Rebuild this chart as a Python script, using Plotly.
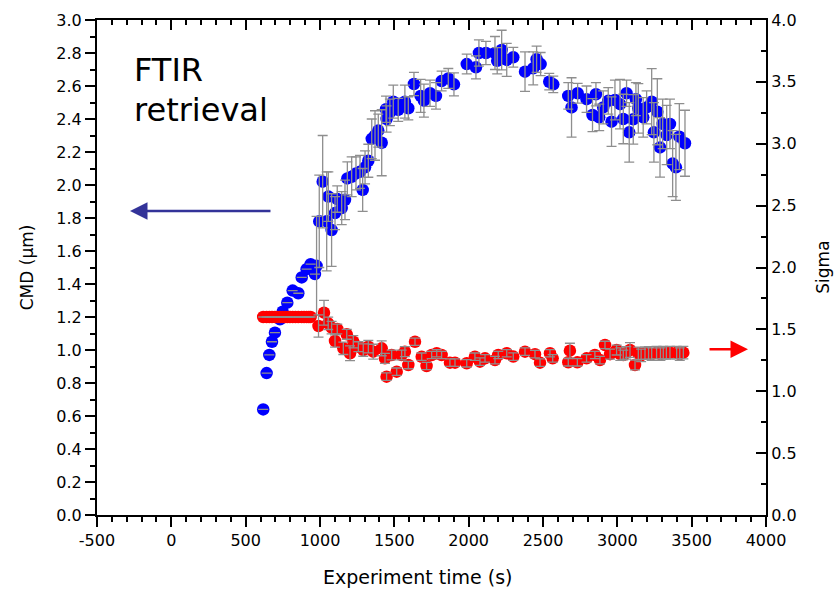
import plotly.graph_objects as go

# ---- data ----
blue_t = [618, 641, 659, 677, 697, 731, 749, 780, 816, 854, 877, 910, 937, 966, 977,
          995, 1018, 1045, 1056, 1078, 1101, 1116, 1146, 1168, 1184, 1213, 1242, 1269, 1287,
          1303, 1325, 1348, 1370, 1392, 1415, 1444, 1448, 1470, 1493, 1526, 1571, 1594, 1632,
          1677, 1699, 1740, 1780, 1818, 1863, 1901, 1987, 2049, 2069, 2116, 2177, 2192, 2222,
          2256, 2300, 2379, 2434, 2457, 2484, 2542, 2569, 2670, 2692, 2733, 2793, 2833, 2856,
          2878, 2905, 2939, 2961, 2984, 3018, 3040, 3062, 3080, 3107, 3125, 3141, 3174, 3197,
          3231, 3246, 3269, 3287, 3305, 3332, 3354, 3372, 3394, 3417, 3455]
blue_cmd = [0.64, 0.86, 0.97, 1.05, 1.105, 1.186, 1.232, 1.287, 1.36, 1.344, 1.44, 1.49, 1.52, 1.46, 1.51,
            1.78, 2.02, 1.78, 1.93, 1.727, 1.83, 1.915, 1.86, 1.91, 2.04, 2.05, 2.07, 2.08, 1.97,
            2.107, 2.147, 2.28, 2.30, 2.33, 2.256, 2.459, 2.40, 2.44, 2.505, 2.455, 2.505, 2.465, 2.612,
            2.54, 2.511, 2.556, 2.54, 2.63, 2.646, 2.61, 2.733, 2.713, 2.80, 2.80, 2.80, 2.753, 2.818,
            2.758, 2.774, 2.687, 2.707, 2.762, 2.733, 2.626, 2.61, 2.54, 2.47, 2.556, 2.52, 2.424, 2.55,
            2.41, 2.47, 2.51, 2.384, 2.515, 2.49, 2.40, 2.556, 2.319, 2.398, 2.52, 2.465, 2.41, 2.47,
            2.505, 2.319, 2.444, 2.228, 2.37, 2.303, 2.37, 2.13, 2.107, 2.293, 2.253]
blue_err = [0, 0, 0, 0, 0, 0, 0, 0, 0, 0, 0, 0, 0, 0, 0.3,
            0.28, 0.28, 0.3, 0.15, 0.22, 0.1, 0.08, 0.1, 0.12, 0.1, 0.12, 0.1, 0.1, 0.13,
            0.1, 0.1, 0.12, 0.15, 0.1, 0.2, 0.08, 0.08, 0.08, 0.1, 0.07, 0.1, 0.07, 0.07,
            0.1, 0.1, 0.08, 0.08, 0.06, 0.06, 0.07, 0.06, 0.07, 0.08, 0.07, 0.1, 0.08, 0.12,
            0.1, 0.06, 0.12, 0.1, 0.08, 0.07, 0.05, 0.05, 0.08, 0.18, 0.06, 0.08, 0.1, 0.07,
            0.08, 0.1, 0.08, 0.15, 0.12, 0.15, 0.15, 0.08, 0.18, 0.15, 0.1, 0.15, 0.12, 0.1,
            0.2, 0.18, 0.2, 0.18, 0.15, 0.18, 0.15, 0.2, 0.2, 0.2, 0.2]

red_t = [618, 641, 659, 677, 697, 714, 731, 749, 765, 780, 798, 816, 835, 854, 877, 893, 910, 925, 937,
         990, 1027, 1055, 1078, 1101, 1116, 1157, 1180, 1202, 1224, 1258, 1291, 1325, 1358, 1415,
         1437, 1448, 1482, 1516, 1549, 1571, 1594, 1639, 1684, 1717, 1751, 1785, 1818, 1874, 1908,
         1987, 2042, 2076, 2110, 2177, 2199, 2256, 2300, 2379, 2446, 2480, 2547, 2565, 2670, 2681,
         2731, 2793, 2849, 2883, 2917, 2951, 2995, 3020, 3040, 3060, 3085, 3119, 3141, 3160, 3186,
         3210, 3231, 3264, 3290, 3309, 3330, 3354, 3399, 3420, 3444]
red_sigma = [1.6] * 19 + [
         1.527, 1.635, 1.549, 1.514, 1.406, 1.503, 1.347, 1.46, 1.307, 1.40, 1.36, 1.333, 1.36, 1.32, 1.347,
         1.266, 1.118, 1.293, 1.158, 1.293, 1.32, 1.212, 1.40, 1.279, 1.204, 1.293, 1.307, 1.293, 1.231, 1.231,
         1.226, 1.279, 1.239, 1.266, 1.252, 1.293, 1.307, 1.28, 1.32, 1.30, 1.231, 1.307, 1.266, 1.234, 1.328,
         1.234, 1.266, 1.293, 1.252, 1.374, 1.30, 1.333, 1.30, 1.293, 1.31, 1.333, 1.212, 1.307, 1.29, 1.307,
         1.31, 1.30, 1.312, 1.30, 1.312, 1.31, 1.312, 1.312, 1.30, 1.312]
red_err = [0] * 19 + [
         0.09, 0.1, 0.05, 0.05, 0.05, 0.04, 0.05, 0.04, 0.06, 0.05, 0.04, 0.05, 0.05, 0.06, 0.06,
         0.04, 0.03, 0.04, 0.03, 0.04, 0.04, 0.03, 0.03, 0.03, 0.03, 0.03, 0.03, 0.03, 0.03, 0.03,
         0.03, 0.03, 0.03, 0.03, 0.03, 0.03, 0.03, 0.03, 0.03, 0.03, 0.03, 0.03, 0.03, 0.03, 0.06,
         0.03, 0.03, 0.03, 0.03, 0.03, 0.04, 0.04, 0.05, 0.04, 0.05, 0.06, 0.04, 0.05, 0.05, 0.05,
         0.05, 0.05, 0.05, 0.05, 0.05, 0.05, 0.05, 0.05, 0.05, 0.05]

x_ticks = [-500, 0, 500, 1000, 1500, 2000, 2500, 3000, 3500, 4000]
x_ticklabels = ["-500", "0", "500", "1000", "1500", "2000", "2500", "3000", "3500", "4000"]
x_range = [-500, 4000]
y1_range = [0, 3.0]
y2_range = [0, 4.0]

FONT = "DejaVu Sans, sans-serif"
ERR_COLOR = "#8e8e8e"

fig = go.Figure()

# blue markers, then error bars on top
fig.add_trace(go.Scatter(x=blue_t, y=blue_cmd, mode="markers",
                         marker=dict(color="#0000ff", size=12.5), showlegend=False, hoverinfo="skip"))
fig.add_trace(go.Scatter(x=blue_t, y=blue_cmd, mode="markers",
                         marker=dict(color="rgba(0,0,0,0)", size=1),
                         error_y=dict(type="data", array=blue_err, color=ERR_COLOR, thickness=1.3, width=5),
                         showlegend=False, hoverinfo="skip"))
# red markers (right axis), then error bars
fig.add_trace(go.Scatter(x=red_t, y=red_sigma, mode="markers", yaxis="y2",
                         marker=dict(color="#ff0000", size=12.5), showlegend=False, hoverinfo="skip"))
fig.add_trace(go.Scatter(x=red_t, y=red_sigma, mode="markers", yaxis="y2",
                         marker=dict(color="rgba(0,0,0,0)", size=1),
                         error_y=dict(type="data", array=red_err, color=ERR_COLOR, thickness=1.3, width=5),
                         showlegend=False, hoverinfo="skip"))
# invisible trace to anchor the top axis
fig.add_trace(go.Scatter(x=x_range, y=[0, 0], xaxis="x2", mode="markers",
                         marker=dict(opacity=0), showlegend=False, hoverinfo="skip"))

tickfont = dict(family=FONT, size=16, color="black")

fig.update_layout(
    width=839, height=590,
    margin=dict(l=97, r=73, t=20, b=75),
    paper_bgcolor="white", plot_bgcolor="white",
    font=dict(family=FONT, color="black"),
    xaxis=dict(range=x_range, tickmode="array", tickvals=x_ticks, ticktext=x_ticklabels,
               showgrid=False, zeroline=False,
               showline=True, linecolor="black", linewidth=2,
               ticks="outside", ticklen=10, tickwidth=2, tickcolor="black",
               minor=dict(dtick=100, tick0=0, ticks="outside", ticklen=5, tickwidth=1.5, tickcolor="black"),
               tickfont=tickfont),
    xaxis2=dict(range=x_range, overlaying="x", side="top", dtick=500, tick0=0,
                showgrid=False, zeroline=False, showticklabels=False,
                showline=True, linecolor="black", linewidth=2,
                ticks="inside", ticklen=10, tickwidth=2, tickcolor="black",
                minor=dict(dtick=100, ticks="inside", ticklen=5, tickwidth=1.5, tickcolor="black")),
    yaxis=dict(range=y1_range, dtick=0.2, tick0=0, tickformat=".1f", showgrid=False, zeroline=False,
               showline=True, linecolor="black", linewidth=2,
               ticks="outside", ticklen=10, tickwidth=2, tickcolor="black",
               minor=dict(dtick=0.1, ticks="outside", ticklen=5, tickwidth=1.5, tickcolor="black"),
               tickfont=tickfont),
    yaxis2=dict(range=y2_range, overlaying="y", side="right", dtick=0.5, tick0=0, tickformat=".1f",
                showgrid=False, zeroline=False,
                showline=True, linecolor="black", linewidth=2,
                ticks="inside", ticklen=10, tickwidth=2, tickcolor="black",
                minor=dict(dtick=0.25, ticks="inside", ticklen=5, tickwidth=1.5, tickcolor="black"),
                tickfont=tickfont),
)

ann = []
ann.append(dict(text="CMD (µm)", xref="paper", yref="paper", x=-0.105, y=0.5, textangle=-90,
                showarrow=False, font=dict(size=17, family=FONT), xanchor="center", yanchor="middle"))
ann.append(dict(text="Sigma", xref="paper", yref="paper", x=1.084, y=0.5, textangle=-90,
                showarrow=False, font=dict(size=17, family=FONT), xanchor="center", yanchor="middle"))
ann.append(dict(text="Experiment time (s)", xref="paper", yref="paper", x=0.48, y=-0.125,
                showarrow=False, font=dict(size=19, family=FONT), xanchor="center", yanchor="middle"))
ann.append(dict(text="FTIR", xref="paper", yref="paper", x=0.052, y=0.899,
                showarrow=False, font=dict(size=32, family=FONT), xanchor="left", yanchor="middle"))
ann.append(dict(text="retrieval", xref="paper", yref="paper", x=0.052, y=0.818,
                showarrow=False, font=dict(size=32, family=FONT), xanchor="left", yanchor="middle"))
# arrows
ann.append(dict(x=-278, y=1.842, xref="x", yref="y", ax=677, ay=1.842, axref="x", ayref="y",
                text="", showarrow=True, arrowhead=2, arrowsize=1.4, arrowwidth=2.5,
                arrowcolor="#333399"))
ann.append(dict(x=3879, y=1.339, xref="x", yref="y2", ax=3610, ay=1.339, axref="x", ayref="y2",
                text="", showarrow=True, arrowhead=2, arrowsize=1.4, arrowwidth=2.5,
                arrowcolor="#ff0000"))
fig.update_layout(annotations=ann)

fig.write_html("out.html")
